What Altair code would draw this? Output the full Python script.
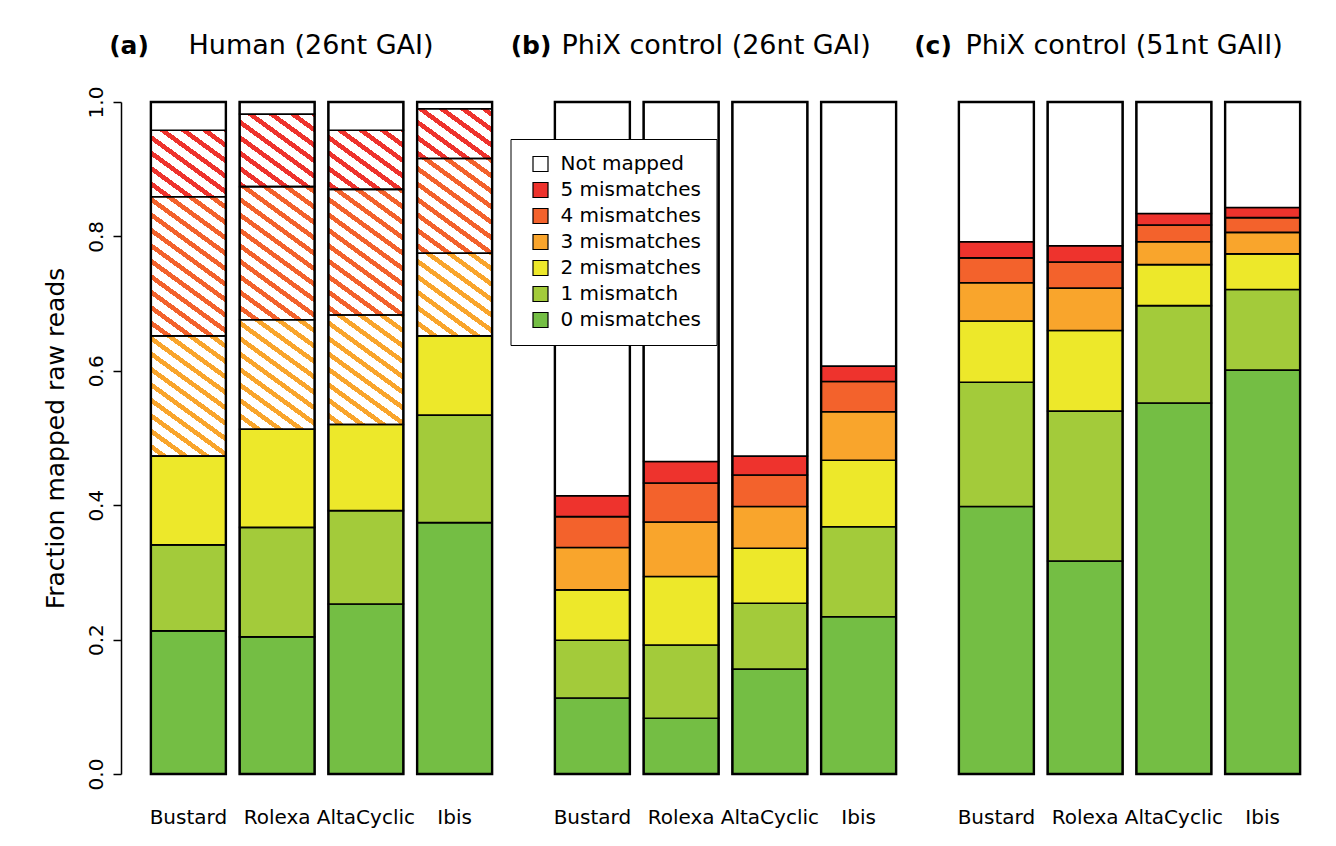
import math
import altair as alt
import pandas as pd

# ---------------- data ----------------
methods = ["Bustard", "Rolexa", "AltaCyclic", "Ibis"]
categories = ["0 mismatches", "1 mismatch", "2 mismatches", "3 mismatches",
              "4 mismatches", "5 mismatches", "Not mapped"]
colors = ["#74BE44", "#A3CB3A", "#EDE82A", "#F9A52C", "#F3622C", "#EE332D", "#FFFFFF"]
hatched = ["3 mismatches", "4 mismatches", "5 mismatches"]

panel_letters = ["(a)", "(b)", "(c)"]
panel_names = ["Human (26nt GAI)", "PhiX control (26nt GAI)", "PhiX control (51nt GAII)"]

# (a) Human (26nt GAI)
human_mm0 = [0.213, 0.204, 0.253, 0.374]
human_mm1 = [0.128, 0.163, 0.139, 0.160]
human_mm2 = [0.132, 0.146, 0.128, 0.118]
human_mm3 = [0.179, 0.163, 0.163, 0.123]
human_mm4 = [0.207, 0.198, 0.187, 0.141]
human_mm5 = [0.099, 0.108, 0.088, 0.074]
human_nm = [0.042, 0.018, 0.042, 0.010]

# (b) PhiX control (26nt GAI)
phix26_mm0 = [0.113, 0.083, 0.156, 0.234]
phix26_mm1 = [0.086, 0.109, 0.098, 0.134]
phix26_mm2 = [0.075, 0.102, 0.082, 0.099]
phix26_mm3 = [0.063, 0.081, 0.062, 0.072]
phix26_mm4 = [0.046, 0.058, 0.047, 0.045]
phix26_mm5 = [0.031, 0.032, 0.028, 0.023]
phix26_nm = [0.586, 0.535, 0.527, 0.393]

# (c) PhiX control (51nt GAII)
phix51_mm0 = [0.398, 0.317, 0.552, 0.601]
phix51_mm1 = [0.185, 0.223, 0.145, 0.120]
phix51_mm2 = [0.091, 0.120, 0.061, 0.053]
phix51_mm3 = [0.057, 0.063, 0.034, 0.032]
phix51_mm4 = [0.037, 0.039, 0.025, 0.022]
phix51_mm5 = [0.024, 0.024, 0.017, 0.015]
phix51_nm = [0.208, 0.214, 0.166, 0.157]

y_ticks = [0.0, 0.2, 0.4, 0.6, 0.8, 1.0]


def frame(series):
    rows = []
    for rank, (cat, vals) in enumerate(zip(categories, series)):
        for m, v in zip(methods, vals):
            rows.append({"method": m, "category": cat, "rank": rank, "value": v})
    return pd.DataFrame(rows)


df_a = frame([human_mm0, human_mm1, human_mm2, human_mm3, human_mm4, human_mm5, human_nm])
df_b = frame([phix26_mm0, phix26_mm1, phix26_mm2, phix26_mm3, phix26_mm4, phix26_mm5, phix26_nm])
df_c = frame([phix51_mm0, phix51_mm1, phix51_mm2, phix51_mm3, phix51_mm4, phix51_mm5, phix51_nm])

# ---------------- styling ----------------
FONT = "DejaVu Sans"
PW, PH = 355, 672
PAD_INNER = 0.155
BAR_W = PW / 4 * (1 - PAD_INNER)

legend_domain = categories[::-1]
legend_range = colors[::-1]


def hatch_gradient(w, h, angle_deg=36, period=12.5, frac_white=0.63):
    """White stripes on transparent, drawn in the bar's bounding box."""
    s = math.tan(math.radians(angle_deg))
    k = (s * w + h) / (s * s * w * w + h * h)
    dx, dy = -s * w * k, h * k
    L = (s * w + h) / math.sqrt(1 + s * s)
    n = L / period
    stops = []
    i = 0
    while i / n < 1:
        a = i / n
        b = min((i + frac_white) / n, 1)
        c = min((i + 1) / n, 1)
        stops += [
            {"offset": a, "color": "#FFFFFF"},
            {"offset": b, "color": "#FFFFFF"},
            {"offset": b, "color": "rgba(255,255,255,0)"},
            {"offset": c, "color": "rgba(255,255,255,0)"},
        ]
        i += 1
    return {"gradient": "linear", "x1": 1, "y1": 0, "x2": 1 + dx, "y2": dy, "stops": stops}


def x_enc():
    return alt.X(
        "method:N", sort=methods,
        scale=alt.Scale(paddingInner=PAD_INNER, paddingOuter=PAD_INNER / 2),
        axis=alt.Axis(title=None, labelAngle=0, domain=False, ticks=False,
                      labelFontSize=20, labelPadding=33, labelColor="black", labelFont=FONT),
    )


y_scale = alt.Scale(domain=[0, 1], nice=False, zero=True)


def y_axis(show):
    if not show:
        return None
    return alt.Axis(values=y_ticks, format=".1f", title="Fraction mapped raw reads",
                    labelAngle=270, labelAlign="center", labelBaseline="bottom",
                    labelFontSize=20, labelColor="black", labelFont=FONT, labelPadding=7,
                    labelOverlap=False, labelFlush=False,
                    tickSize=8, tickWidth=1.5, tickColor="black",
                    domainColor="black", domainWidth=1.5, offset=23, grid=False,
                    titleFontSize=25, titleFontWeight="normal", titleColor="black",
                    titleFont=FONT, titlePadding=18)


def color_enc(legend):
    return alt.Color("category:N",
                     scale=alt.Scale(domain=legend_domain, range=legend_range),
                     legend=legend)


def title_layers(idx, letter_x, name_x):
    d = pd.DataFrame({"letter": [panel_letters[idx]], "name": [panel_names[idx]]})
    letter = alt.Chart(d).mark_text(font=FONT, fontSize=25, fontWeight="bold", align="center",
                                    baseline="alphabetic", color="black").encode(
        text="letter:N", x=alt.value(letter_x), y=alt.value(-48))
    name = alt.Chart(d).mark_text(font=FONT, fontSize=27, fontWeight="normal", align="left",
                                  baseline="alphabetic", color="black").encode(
        text="name:N", x=alt.value(name_x), y=alt.value(-48))
    return [letter, name]


def outline(df, show_axis):
    return alt.Chart(df).mark_bar(fill="transparent", stroke="black", strokeWidth=2.4).encode(
        x=x_enc(), y=alt.Y("sum(value):Q", scale=y_scale, axis=y_axis(show_axis)))


order = alt.Order("rank:Q", sort="ascending")

# ---------------- panel a (hatched 3-5 mismatches) ----------------
a_base = alt.Chart(df_a).mark_bar(strokeWidth=0).encode(
    x=x_enc(), y=alt.Y("value:Q", stack="zero", scale=y_scale, axis=y_axis(True)),
    color=color_enc(None), order=order)
a_hatch = alt.Chart(df_a).mark_bar(fill=hatch_gradient(BAR_W, PH)).encode(
    x=x_enc(), y=alt.Y("sum(value):Q", scale=y_scale, axis=y_axis(True)))
a_top = alt.Chart(df_a).mark_bar(stroke="black", strokeWidth=1.6).encode(
    x=x_enc(), y=alt.Y("value:Q", stack="zero", scale=y_scale, axis=y_axis(True)),
    color=color_enc(None), order=order,
    fillOpacity=alt.condition(alt.FieldOneOfPredicate(field="category", oneOf=hatched),
                              alt.value(0), alt.value(1)))
panel_a = alt.layer(a_base, a_hatch, a_top, outline(df_a, True),
                    *title_layers(0, -15, 44.5)).properties(width=PW, height=PH)

# ---------------- panel b (with legend) ----------------
legend_b = alt.Legend(title=None, orient="none", legendX=-37.5, legendY=37,
                      strokeColor="black", fillColor="white", padding=15,
                      labelFontSize=20, labelColor="black", labelFont=FONT, labelLimit=400,
                      symbolType="square", symbolSize=225, symbolStrokeColor="black",
                      symbolStrokeWidth=1.2, symbolOffset=5, labelOffset=10, rowPadding=6)
b_bars = alt.Chart(df_b).mark_bar(stroke="black", strokeWidth=1.6).encode(
    x=x_enc(), y=alt.Y("value:Q", stack="zero", scale=y_scale, axis=None),
    color=color_enc(legend_b), order=order)
panel_b = alt.layer(b_bars, outline(df_b, False),
                    *title_layers(1, -17, 13.5)).properties(width=PW, height=PH)

# ---------------- panel c ----------------
c_bars = alt.Chart(df_c).mark_bar(stroke="black", strokeWidth=1.6).encode(
    x=x_enc(), y=alt.Y("value:Q", stack="zero", scale=y_scale, axis=None),
    color=color_enc(None), order=order)
panel_c = alt.layer(c_bars, outline(df_c, False),
                    *title_layers(2, -19, 13.5)).properties(width=PW, height=PH)

chart = alt.hconcat(panel_a, panel_b, panel_c, spacing=49, bounds="flush").resolve_scale(
    color="independent", x="independent", y="independent"
).properties(
    padding={"left": 35, "top": 24, "right": 5, "bottom": 5}
).configure(font=FONT).configure_view(stroke=None)

chart.save("out.html", embed_options={"renderer": "svg", "actions": False})
